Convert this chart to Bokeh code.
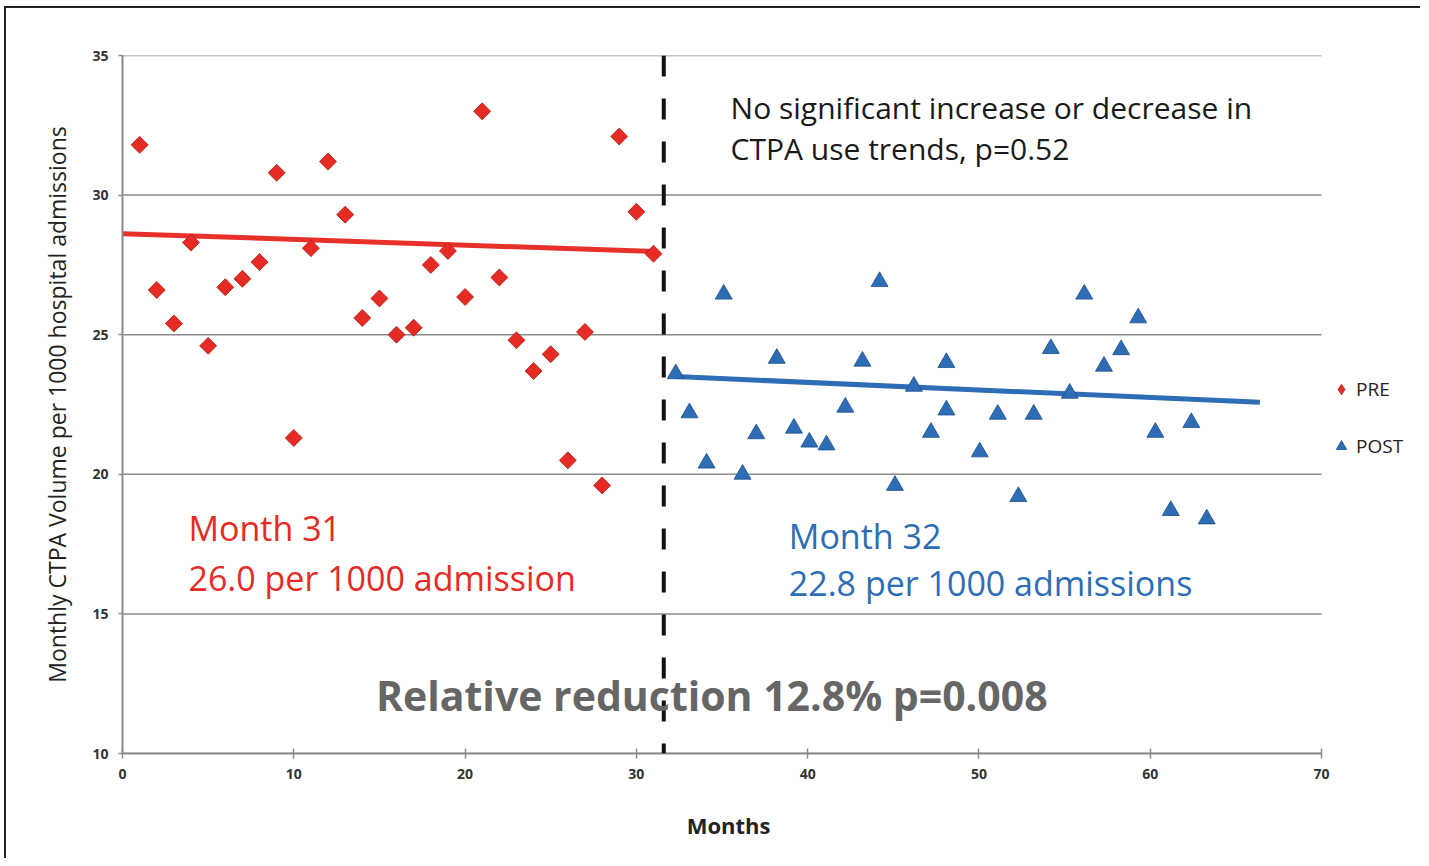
import math
from bokeh.plotting import figure
from bokeh.models import Range1d, Label, Legend, LegendItem, Span, FixedTicker
from bokeh.embed import file_html
from bokeh.resources import INLINE

# ---- data ----
pre_month = [1, 2, 3, 4, 5, 6, 7, 8, 9, 10, 11, 12, 13, 14, 15, 16, 17, 18, 19, 20,
             21, 22, 23, 24, 25, 26, 27, 28, 29, 30, 31]
pre_value = [31.8, 26.6, 25.4, 28.3, 24.6, 26.7, 27.0, 27.6, 30.8, 21.3, 28.1, 31.2,
             29.3, 25.6, 26.3, 25.0, 25.25, 27.5, 28.0, 26.35, 33.0, 27.05, 24.8, 23.7,
             24.3, 20.5, 25.1, 19.6, 32.1, 29.4, 27.9]
post_month = [32.3, 33.1, 34.1, 35.1, 36.2, 37.0, 38.2, 39.2, 40.1, 41.1, 42.2, 43.2,
              44.2, 45.1, 46.2, 47.2, 48.1, 48.1, 50.05, 51.1, 52.3, 53.2, 54.2, 55.3,
              56.15, 57.3, 58.3, 59.3, 60.3, 61.2, 62.4, 63.3]
post_value = [23.6, 22.2, 20.4, 26.45, 20.0, 21.45, 24.15, 21.65, 21.15, 21.05, 22.4,
              24.05, 26.9, 19.6, 23.15, 21.5, 24.0, 22.3, 20.8, 22.15, 19.2, 22.15, 24.5,
              22.9, 26.45, 23.87, 24.46, 25.6, 21.5, 18.7, 21.85, 18.4]
pre_trend_x = [0, 31.1]
pre_trend_y = [28.62, 27.98]
post_trend_x = [32.3, 66.4]
post_trend_y = [23.5, 22.58]
intervention_month = 31.6
x_ticks = [0, 10, 20, 30, 40, 50, 60, 70]
y_ticks = [10, 15, 20, 25, 30, 35]
x_axis_end = 70

FONT = "Open Sans"
RED = "#e52b24"
BLUE = "#2c6db5"

# frame extends right of the 0-70 axis to leave room for the legend
FRAME_W = 1298
AXIS_PX = 1199
x_view_end = x_axis_end * FRAME_W / AXIS_PX

p = figure(frame_width=FRAME_W, frame_height=698, output_backend="svg", toolbar_location=None,
           x_range=Range1d(0, x_view_end), y_range=Range1d(10, 35),
           min_border_left=116, min_border_right=0, min_border_top=47,
           min_border_bottom=105)
p.styles = {"margin-left": "4px", "margin-top": "6px",
            "border-left": "2px solid #222", "border-top": "2px solid #222"}
p.outline_line_color = None
p.background_fill_color = "white"

# axes
p.xaxis.ticker = FixedTicker(ticks=x_ticks)
p.yaxis.ticker = FixedTicker(ticks=y_ticks)
p.xaxis.bounds = (0, x_axis_end)
for ax in (p.xaxis[0], p.yaxis[0]):
    ax.axis_line_color = "#8a8a8a"
    ax.axis_line_width = 2
    ax.major_tick_line_color = "#8a8a8a"
    ax.major_tick_line_width = 1.5
    ax.minor_tick_line_color = None
    ax.major_label_text_font = FONT
    ax.major_label_text_font_size = "14px"
    ax.major_label_text_font_style = "bold"
    ax.major_label_text_color = "#333333"
    ax.axis_label_text_font = FONT
    ax.axis_label_text_color = "#222222"
p.xaxis.major_tick_in = 5
p.xaxis.major_tick_out = 5
p.yaxis.major_tick_in = 0
p.yaxis.major_tick_out = 4
p.xaxis.major_label_standoff = 10
p.yaxis.major_label_standoff = 10
# trailing no-break spaces keep the label centred under the 0-70 span
p.xaxis.axis_label = "Months" + "\u00a0" * 15
p.xaxis.axis_label_text_font_size = "22px"
p.xaxis.axis_label_text_font_style = "bold"
p.xaxis.axis_label_standoff = 28
p.yaxis.axis_label = "Monthly CTPA Volume per 1000 hospital admissions"
p.yaxis.axis_label_text_font_size = "23px"
p.yaxis.axis_label_text_font_style = "normal"
p.yaxis.axis_label_standoff = 16

# horizontal gridlines only across the 0-70 axis span
p.xgrid.grid_line_color = None
p.ygrid.grid_line_color = None
p.segment(x0=[0] * len(y_ticks), x1=[x_axis_end] * len(y_ticks), y0=y_ticks, y1=y_ticks,
          line_color="#8a8a8a", line_width=1.5)

# intervention line
p.add_layout(Span(location=intervention_month, dimension="height", line_color="#111111",
                  line_width=4, line_dash="21 22"))

# trend lines
p.line(pre_trend_x, pre_trend_y, line_color="#e8302a", line_width=5)
p.line(post_trend_x, post_trend_y, line_color=BLUE, line_width=5)

# points
r_pre = p.scatter(pre_month, pre_value, marker="square", size=12, angle=math.pi / 4,
                  fill_color=RED, line_color="#b01a14", line_width=0.8)
r_post = p.scatter(post_month, post_value, marker="triangle", size=17,
                   fill_color=BLUE, line_color="#1d4f8a", line_width=0.8)
# hidden diamond renderer of the same data, used only as the legend swatch
# (legend markers are drawn unrotated)
r_pre_key = p.scatter(pre_month, pre_value, marker="diamond", size=17,
                      fill_color=RED, line_color="#b01a14", line_width=0.8,
                      visible=False)

legend = Legend(items=[LegendItem(label="PRE", renderers=[r_pre_key]),
                       LegendItem(label="POST", renderers=[r_post])],
                location=(1206, 292), margin=0, padding=6, spacing=27,
                glyph_width=26, glyph_height=30, label_height=30, label_standoff=2,
                label_text_font=FONT, label_text_font_size="19px",
                label_text_color="#222222", border_line_color=None,
                background_fill_alpha=0, inactive_fill_alpha=0)
p.add_layout(legend, "center")

# annotations
def lab(x, y, t, color, size, style="normal"):
    p.add_layout(Label(x=x, y=y, text=t, text_color=color, text_font=FONT,
                       text_font_size=size, text_font_style=style,
                       text_baseline="middle", text_align="left"))

lab(35.5, 33.14, "No significant increase or decrease in", "#1a1a1a", "30px")
lab(35.5, 31.67, "CTPA use trends, p=0.52", "#1a1a1a", "30px")
lab(3.85, 18.06, "Month 31", RED, "34px")
lab(3.85, 16.3, "26.0 per 1000 admission", RED, "34px")
lab(38.9, 17.8, "Month 32", BLUE, "34px")
lab(38.9, 16.12, "22.8 per 1000 admissions", BLUE, "34px")
lab(14.8, 12.11, "Relative reduction 12.8% p=0.008", "#666666", "41px", "bold")

open("out.html", "w").write(file_html(p, INLINE))
